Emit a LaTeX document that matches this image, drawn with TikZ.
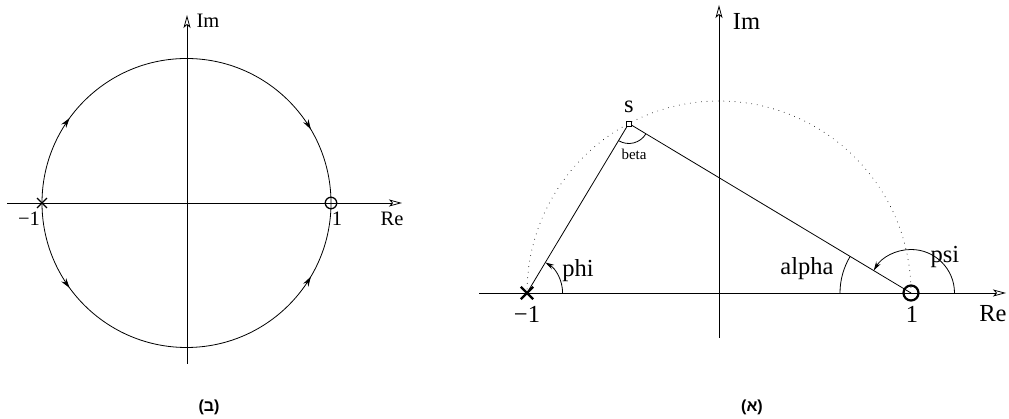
\documentclass[tikz,border=0pt]{standalone}
\usepackage{fontspec}
\setmainfont{Liberation Serif}
\newfontfamily\hebfont[Script=Hebrew]{Liberation Sans}
\usetikzlibrary{arrows.meta,decorations.markings,shapes.misc}
\begin{document}
\begin{tikzpicture}[x=1pt,y=1pt,
  axis/.style={line width=0.8pt,-{Stealth[open,length=13pt,width=7pt,inset=3pt]}},
  ln/.style={line width=0.8pt},
  dots/.style={line width=0.9pt,line cap=round,dash pattern=on 0pt off 5.6pt},
  smallarrow/.style={-{Stealth[length=9pt,width=5pt]}},
  midarrows/.style={postaction={decorate},decoration={markings,
      mark=at position 0.2 with {\arrow{Stealth[length=10pt,width=6pt]}},
      mark=at position 0.83 with {\arrow{Stealth[length=10pt,width=6pt]}}}},
  biglab/.style={font=\fontsize{24.5}{29}\selectfont,inner sep=0pt,anchor=base},
  smalllab/.style={font=\fontsize{20.5}{24}\selectfont,inner sep=0pt,anchor=base},
  caption/.style={font=\hebfont\bfseries\fontsize{16}{19}\selectfont,inner sep=0pt},
  xmark/.style={cross out,draw,inner sep=0pt},
  omark/.style={circle,draw,inner sep=0pt},
]
\useasboundingbox (0,0) rectangle (1009,419);

% ---------------- left diagram (b) ----------------
\coordinate (O1) at (186.5,216);
\coordinate (L1) at (42,216);
\coordinate (R1) at (331,216);
\coordinate (xs1) at (7,216);
\coordinate (xe1) at (402,216);
\coordinate (ys1) at (187,55);
\coordinate (ye1) at (187,404);
\draw[axis] (xs1) -- (xe1);
\draw[axis] (ys1) -- (ye1);
\draw[ln,midarrows] (L1) arc[start angle=180,end angle=0,radius=144.5];
\draw[ln,midarrows] (L1) arc[start angle=180,end angle=360,radius=144.5];
\node[xmark,line width=1.3pt,minimum size=8.5pt] (X1) at (L1) {};
\node[omark,line width=1.3pt,minimum size=11.5pt] (C1) at (R1) {};
\node[smalllab] (im1) at (208,391) {Im};
\node[smalllab] (re1) at (392,193) {Re};
\node[smalllab] (m1) at (29,193) {−1};
\node[smalllab] (p1) at (337,193) {1};
\node[caption] (capb) at (209,12) {(ב)};

% ---------------- right diagram (a) ----------------
\coordinate (O2) at (719,126);
\coordinate (M2) at (527,126);
\coordinate (P2) at (911,126);
\coordinate (S) at (628.8,295.5);
\coordinate (xs2) at (479,126);
\coordinate (xe2) at (1006,126);
\coordinate (ys2) at (719,81);
\coordinate (ye2) at (719,414);
\draw[axis] (xs2) -- (xe2);
\draw[axis] (ys2) -- (ye2);
\draw[dots] (P2) arc[start angle=0,end angle=180,radius=192];
\draw[ln] (M2) -- (S);
\draw[ln] (P2) -- (S);
% angle arcs
\draw[ln,smallarrow] ([shift={(35.6,0)}]M2) arc[start angle=0,end angle=59.1,radius=35.6];
\draw[ln,smallarrow] ([shift={(43.5,0)}]P2) arc[start angle=0,end angle=148.95,radius=43.5];
\draw[ln] ([shift={(-71,0)}]P2) arc[start angle=180,end angle=148.95,radius=71];
\draw[ln] ([shift={(239.1:20)}]S) arc[start angle=239.1,end angle=328.95,radius=20];
% markers
\node[xmark,line width=2.4pt,minimum size=10pt] (X2) at (M2) {};
\node[omark,line width=2.2pt,minimum size=15pt] (C2) at (P2) {};
\node[rectangle,draw,fill=white,line width=0.6pt,minimum size=5pt,inner sep=0pt] (Sq) at (S) {};
% labels
\node[biglab] (im2) at (746.5,389.7) {Im};
\node[biglab] (re2) at (993,97) {Re};
\node[biglab] (m2) at (527,96.5) {−1};
\node[biglab] (p2) at (912,96.5) {1};
\node[biglab] (slab) at (629,306) {s};
\node[font=\fontsize{15}{18}\selectfont,inner sep=0pt,anchor=base] (beta) at (634,259.7) {beta};
\node[biglab] (phi) at (578,142) {phi};
\node[biglab] (alpha) at (807,144) {alpha};
\node[biglab] (psi) at (945,156) {psi};
\node[caption] (capa) at (752,12) {(א)};
\end{tikzpicture}
\end{document}
